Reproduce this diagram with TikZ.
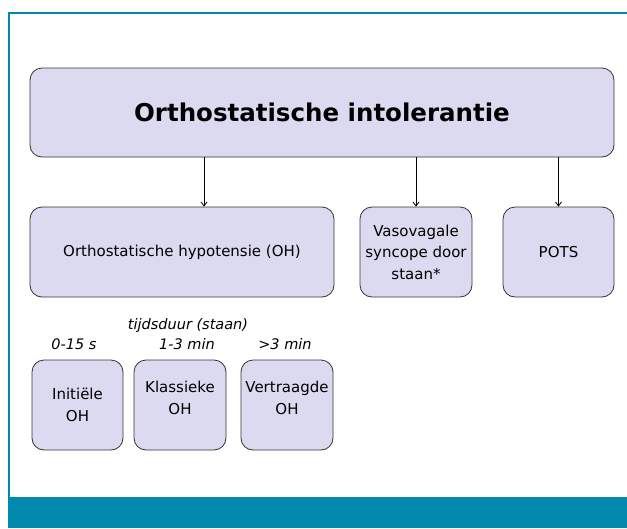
\documentclass[tikz,border=0pt]{standalone}
\usepackage{fontspec}
\setmainfont{DejaVu Sans}
\usetikzlibrary{arrows.meta}
\definecolor{boxfill}{RGB}{220,218,240}
\definecolor{teal}{RGB}{0,136,173}
\tikzset{
  box/.style={draw=black!80, line width=0.8pt, rounded corners=12pt, fill=boxfill,
    align=center, inner sep=2pt, font=\fontsize{15}{21.5}\selectfont},
  lifted/.style={text depth=14pt},
  arr/.style={line width=0.8pt, -{Straight Barb[length=4pt,width=6pt]}},
  duur/.style={font=\itshape\fontsize{14.5}{17}\selectfont, inner sep=0pt}
}
\begin{document}
\begin{tikzpicture}[x=1pt,y=-1pt]
  %%%%% frame %%%%%
  \useasboundingbox (0,0) rectangle (627,528);
  \fill[white] (0,0) rectangle (627,528);
  \draw[teal, line width=2pt] (9,528) -- (9,13) -- (627,13);
  \fill[teal] (8,497) rectangle (627,528);

  %%%%% top %%%%%
  \node[box, minimum width=584, minimum height=89,
    font=\bfseries\fontsize{24.5}{29}\selectfont] (intol) at (322,112.5) {Orthostatische intolerantie};

  %%%%% second row %%%%%
  \node[box, minimum width=304, minimum height=90] (oh) at (182,252) {Orthostatische hypotensie (OH)};
  \node[box, minimum width=112, minimum height=90] (vvs) at (416,252) {Vasovagale\\syncope door\\staan*};
  \node[box, minimum width=111, minimum height=90] (pots) at (558.5,252) {POTS};

  \draw[arr] ([xshift=22pt]oh.north |- intol.south) -- ([xshift=22pt]oh.north);
  \draw[arr] (intol.south -| vvs.north) -- (vvs.north);
  \draw[arr] (intol.south -| pots.north) -- (pots.north);

  %%%%% time labels %%%%%
  \node[duur] (tijd) at (188,325) {tijdsduur (staan)};
  \node[duur] (t1) at (74,344) {0-15 s};
  \node[duur] (t2) at (187,344) {1-3 min};
  \node[duur] (t3) at (285,344) {>3 min};

  %%%%% OH types %%%%%
  \node[box, minimum width=91, minimum height=90] (init) at (77.5,405) {Initiële\\OH};
  \node[box, lifted, minimum width=92, minimum height=90] (klas) at (180,405) {Klassieke\\OH};
  \node[box, lifted, minimum width=92, minimum height=90] (vert) at (287,405) {Vertraagde\\OH};
\end{tikzpicture}
\end{document}
